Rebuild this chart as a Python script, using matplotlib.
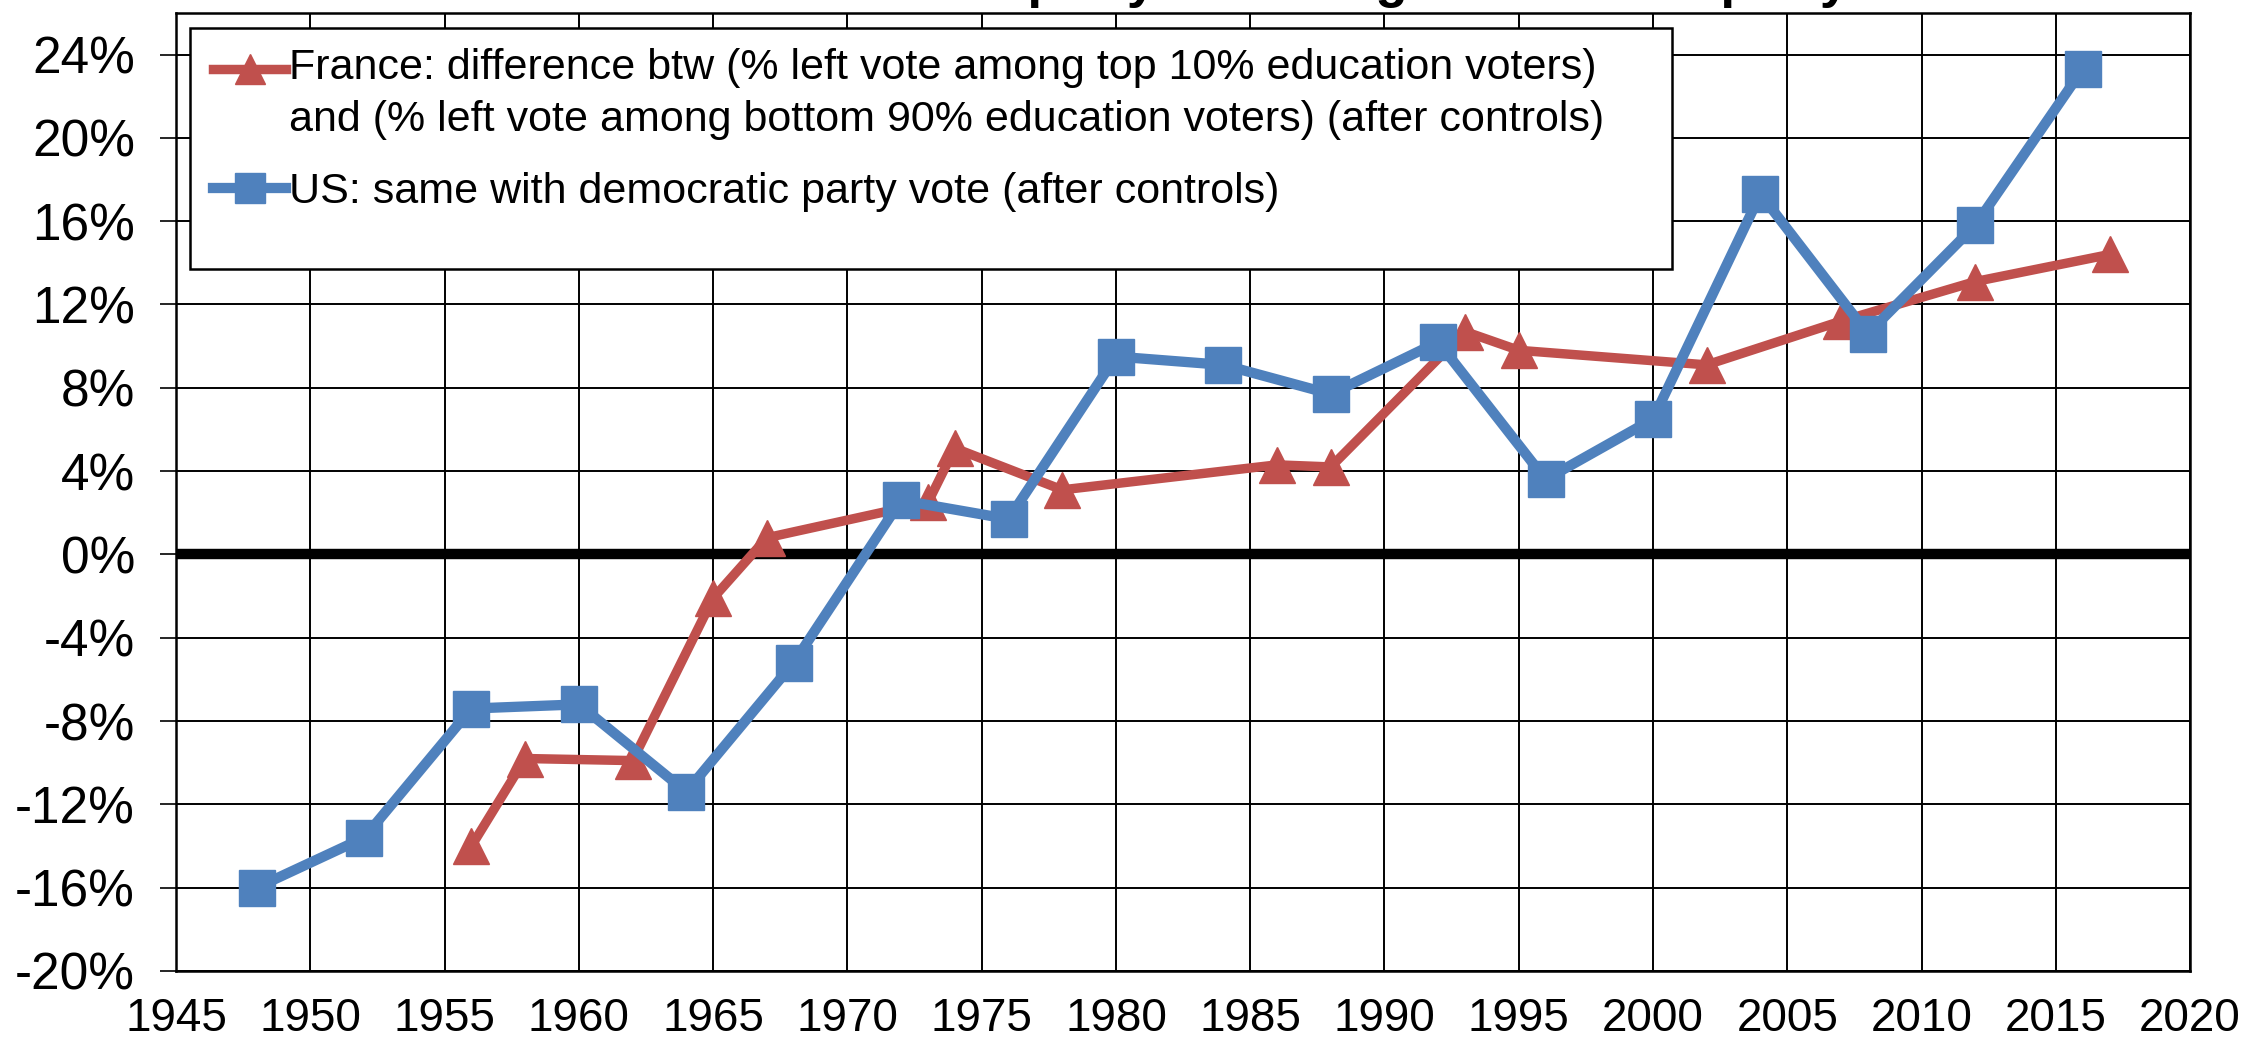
import numpy as np
import matplotlib
matplotlib.use("Agg")
import matplotlib.pyplot as plt
from matplotlib.patches import Rectangle

plt.rcParams['font.family'] = ['Liberation Sans', 'DejaVu Sans']

# data (%)
france_years = [1956, 1958, 1962, 1965, 1967, 1973, 1974, 1978, 1986, 1988,
                1993, 1995, 2002, 2007, 2012, 2017]
france_vals = [-14.0, -9.8, -9.9, -2.1, 0.8, 2.5, 5.1, 3.1, 4.3, 4.2,
               10.7, 9.8, 9.1, 11.2, 13.1, 14.4]

us_years = [1948, 1952, 1956, 1960, 1964, 1968, 1972, 1976, 1980, 1984,
            1988, 1992, 1996, 2000, 2004, 2008, 2012, 2016]
us_vals = [-16.0, -13.6, -7.4, -7.2, -11.4, -5.2, 2.6, 1.7, 9.5, 9.1,
           7.7, 10.2, 3.6, 6.5, 17.3, 10.6, 15.8, 23.3]

x_ticks = list(range(1945, 2021, 5))
y_ticks = list(range(-20, 25, 4))

title = "From the workers party to the high-education party"
france_label = ("France: difference btw (% left vote among top 10% education voters)\n"
                "and (% left vote among bottom 90% education voters) (after controls)")
us_label = "US: same with democratic party vote (after controls)"

RED = "#C0504D"
BLUE = "#4F81BD"

fig = plt.figure(figsize=(22.49, 10.49), dpi=100)
ax = fig.add_axes([0.0783, 0.0744, 0.8955, 0.9133])

# title is cut off by the top edge in the original, only descenders show
fig.text(0.538, 1.003, title, ha='center', va='baseline', fontsize=38, fontweight='bold')

ax.set_xlim(1945, 2020)
ax.set_ylim(-20, 26)
ax.set_xticks(x_ticks)
ax.set_yticks(y_ticks)
ax.set_xticklabels([str(t) for t in x_ticks], fontsize=33)
ax.set_yticklabels([f"{t}%" for t in y_ticks], fontsize=37)
ax.tick_params(axis='x', length=0, pad=18.5)
ax.tick_params(axis='y', length=11.5, width=1.2, pad=18, direction='out')
ax.grid(True, color='black', linewidth=1.4, zorder=0)
ax.set_axisbelow(True)
for s in ax.spines.values():
    s.set_color('black')
    s.set_linewidth(1.8)

ax.axhline(0, color='black', linewidth=7.5, zorder=2)

fr_line, = ax.plot(france_years, france_vals, color=RED, linewidth=6.8,
                   marker='^', markersize=26, zorder=4)
us_line, = ax.plot(us_years, us_vals, color=BLUE, linewidth=7.4,
                   marker='s', markersize=26, zorder=5)

# legend box (white panel over the grid)
ax.add_patch(Rectangle((0.00695, 0.7328), 0.7358, 0.2515, transform=ax.transAxes,
                       facecolor='white', edgecolor='black', linewidth=1.8, zorder=6))

leg = ax.legend([fr_line, us_line], [france_label, us_label], loc='upper left',
                bbox_to_anchor=(0.0184, 0.963), borderaxespad=0, borderpad=0,
                frameon=False, fontsize=31, handlelength=1.7, handletextpad=0.05,
                labelspacing=0.74, markerscale=0.83)
leg.set_zorder(7)
leg.get_texts()[0].set_linespacing(1.37)

# put the France handle on the first text line, as in the original
fr_handle = leg.get_lines()[0]
fr_handle.set_ydata(np.asarray(fr_handle.get_ydata()) + 18.5)

fig.savefig("out.png", dpi=100)
